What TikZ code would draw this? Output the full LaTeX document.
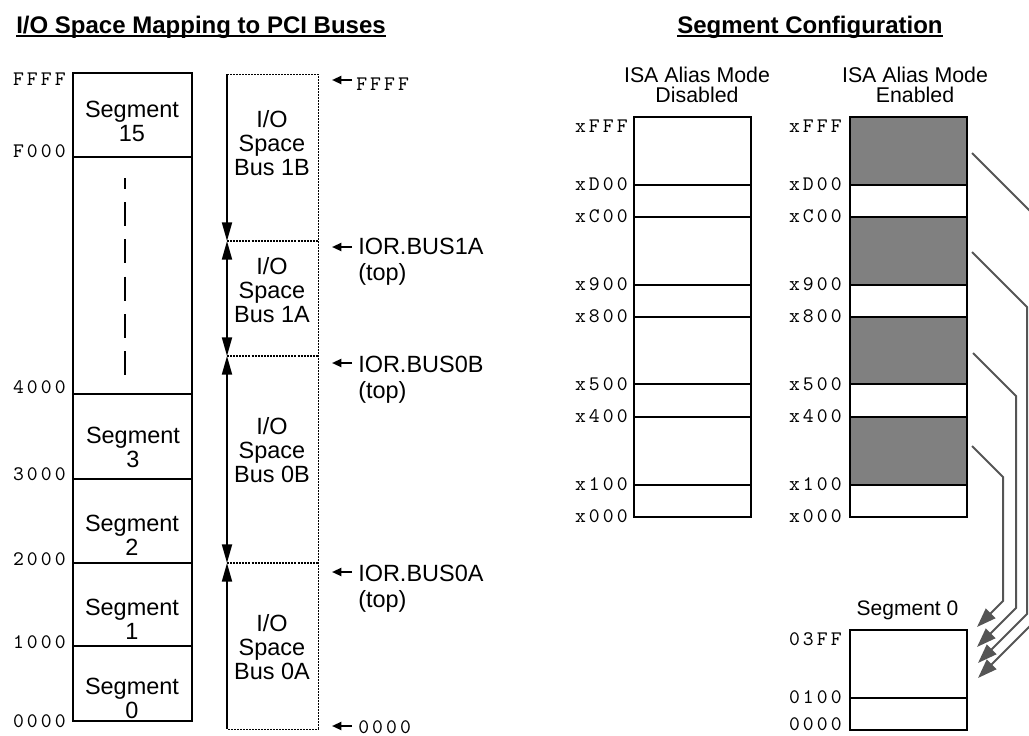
\documentclass[tikz,border=0pt]{standalone}
\usepackage{fontspec}
\setmainfont{Liberation Sans}
\newfontfamily\monolab[LetterSpace=15]{lmmono10-regular.otf}
\usetikzlibrary{arrows.meta}
\definecolor{blockgray}{HTML}{808080}
\definecolor{linkgray}{HTML}{555555}
\begin{document}
\begin{tikzpicture}[x=0.75pt,y=-0.75pt,
 frame/.style={draw=black,line width=1.9pt},
 txt/.style={font=\fontsize{17.6}{18}\selectfont,align=center,inner sep=0pt},
 ior/.style={font=\fontsize{17.6}{19.5}\selectfont,align=left,inner sep=0pt,anchor=north west},
 hdr/.style={font=\fontsize{16}{15}\selectfont,align=center,inner sep=0pt},
 ttl/.style={font=\fontsize{18}{20}\selectfont\bfseries,inner sep=0pt,anchor=base},
 uline/.style={line width=1.5pt},
 addr/.style={font=\monolab\fontsize{15.5}{16}\selectfont,inner sep=0pt,anchor=base east},
 addrw/.style={font=\monolab\fontsize{15.5}{16}\selectfont,inner sep=0pt,anchor=base west},
 dotbox/.style={line width=0.75pt,dash pattern=on 1.5pt off 0.75pt},
 dotsep/.style={line width=2pt,dash pattern=on 1.5pt off 0.8pt},
 busarr/.style={line width=1.5pt},
 ptr/.style={line width=1.5pt,-{Triangle[length=7pt,width=6pt]}},
 link/.style={draw=linkgray,line width=1.5pt,-{Triangle[length=14.5pt,width=10pt]}},
]
\useasboundingbox (0,0) rectangle (1029,736);
\clip (0,0) rectangle (1029,736);

% ---------- titles ----------
\node[ttl] (t1) at (201,33) {I/O Space Mapping to PCI Buses};
\draw[uline] ([yshift=-2pt]t1.base west) -- ([yshift=-2pt]t1.base east);
\node[ttl] (t2) at (810,33) {Segment Configuration};
\draw[uline] ([yshift=-2pt]t2.base west) -- ([yshift=-2pt]t2.base east);

% ---------- segment column ----------
\draw[frame] (73,73) rectangle (192,721);
\foreach \y in {157,394,479,563,646} \draw[frame] (73,\y) -- (192,\y);
\draw[line width=1.5pt,dash pattern=on 18pt off 10pt,dash phase=10pt] (125,178) -- (125,380);
\node[txt] (s15) at (132,121.5) {Segment\\15};
\node[txt] (s3) at (133,447.5) {Segment\\3};
\node[txt] (s2) at (132,535.5) {Segment\\2};
\node[txt] (s1) at (132,619.5) {Segment\\1};
\node[txt] (s0) at (132,698) {Segment\\0};
\node[addr] (la1) at (66,85) {FFFF};
\node[addr] (la2) at (66,157) {F000};
\node[addr] (la3) at (66,393) {4000};
\node[addr] (la4) at (66,480) {3000};
\node[addr] (la5) at (66,565) {2000};
\node[addr] (la6) at (66,648) {1000};
\node[addr] (la7) at (66,727) {0000};

% ---------- bus column ----------
\coordinate (b0) at (227,74);
\coordinate (b1) at (227,241);
\coordinate (b2) at (227,356);
\coordinate (b3) at (227,563);
\coordinate (b4) at (227,729);
\draw[dotbox] (b0) -- (318,74) -- (318,729) -- (b4);
\foreach \y in {241,356,563} \draw[dotsep] (227,\y) -- (318,\y);
\draw[busarr,-{Triangle[length=14pt,width=7.5pt]}] (b0) -- (b1);
\draw[busarr,{Triangle[length=14pt,width=7.5pt]}-{Triangle[length=14pt,width=7.5pt]}] (b1) -- (b2);
\draw[busarr,{Triangle[length=14pt,width=7.5pt]}-{Triangle[length=14pt,width=7.5pt]}] (b2) -- (b3);
\draw[busarr,-{Triangle[length=14pt,width=7.5pt]}] (b4) -- (b3);
\node[txt] (bus1b) at (272,143) {I/O\\Space\\Bus 1B};
\node[txt] (bus1a) at (272,290) {I/O\\Space\\Bus 1A};
\node[txt] (bus0b) at (272,450) {I/O\\Space\\Bus 0B};
\node[txt] (bus0a) at (272,647) {I/O\\Space\\Bus 0A};

% pointers to bus boundaries
\coordinate (p1) at (352,80);  \coordinate (q1) at (332,80);
\coordinate (p2) at (352,247); \coordinate (q2) at (332,247);
\coordinate (p3) at (352,363); \coordinate (q3) at (332,363);
\coordinate (p4) at (352,572); \coordinate (q4) at (332,572);
\coordinate (p5) at (352,726); \coordinate (q5) at (332,726);
\foreach \i in {1,...,5} \draw[ptr] (p\i) -- (q\i);
\node[addrw] (rF) at (356,90) {FFFF};
\node[ior] (ior1a) at (358,238) {IOR.BUS1A\\(top)};
\node[ior] (ior0b) at (358,356) {IOR.BUS0B\\(top)};
\node[ior] (ior0a) at (358,565) {IOR.BUS0A\\(top)};
\node[addrw] (r0) at (358,733) {0000};

% ---------- ISA alias disabled ----------
\node[hdr] (hd) at (697,84.5) {ISA Alias Mode\\Disabled};
\draw[frame] (634,117) rectangle (751,517);
\foreach \y in {185,217,285,317,384,417,485} \draw[frame] (634,\y) -- (751,\y);
\foreach \lab/\y [count=\k] in {xFFF/132,xD00/190,xC00/222,x900/290,x800/322,x500/390,x400/422,x100/490,x000/522}
  \node[addr] (dl\k) at (628,\y) {\lab};

% ---------- ISA alias enabled ----------
\node[hdr] (he) at (915,84.5) {ISA Alias Mode\\Enabled};
\fill[blockgray] (850,117) rectangle (967,185);
\fill[blockgray] (850,217) rectangle (967,285);
\fill[blockgray] (850,317) rectangle (967,384);
\fill[blockgray] (850,417) rectangle (967,485);
\draw[frame] (850,117) rectangle (967,517);
\foreach \y in {185,217,285,317,384,417,485} \draw[frame] (850,\y) -- (967,\y);
\foreach \lab/\y [count=\k] in {xFFF/132,xD00/190,xC00/222,x900/290,x800/322,x500/390,x400/422,x100/490,x000/522}
  \node[addr] (el\k) at (842,\y) {\lab};

% ---------- segment 0 ----------
\node[font=\fontsize{15.75}{16}\selectfont,inner sep=0pt,anchor=base] (seg0t) at (907.5,615) {Segment 0};
\draw[frame] (850,630) rectangle (967,730);
\draw[frame] (850,698) -- (967,698);
\node[addr] (g1) at (842,645) {03FF};
\node[addr] (g2) at (842,703) {0100};
\node[addr] (g3) at (842,730) {0000};

% ---------- alias links ----------
\coordinate (a1s) at (972,153); \coordinate (a1t) at (978,678);
\coordinate (a2s) at (972,252); \coordinate (a2t) at (978,663);
\coordinate (a3s) at (973,353); \coordinate (a3t) at (977,647);
\coordinate (a4s) at (972,446); \coordinate (a4t) at (977,627);
\draw[link] (a1s) -- (1040,221) -- (1040,616) -- (a1t);
\draw[link] (a2s) -- (1027,307) -- (1027,614) -- (a2t);
\draw[link] (a3s) -- (1016,396) -- (1016,608) -- (a3t);
\draw[link] (a4s) -- (1003,477) -- (1003,601) -- (a4t);
\end{tikzpicture}
\end{document}
